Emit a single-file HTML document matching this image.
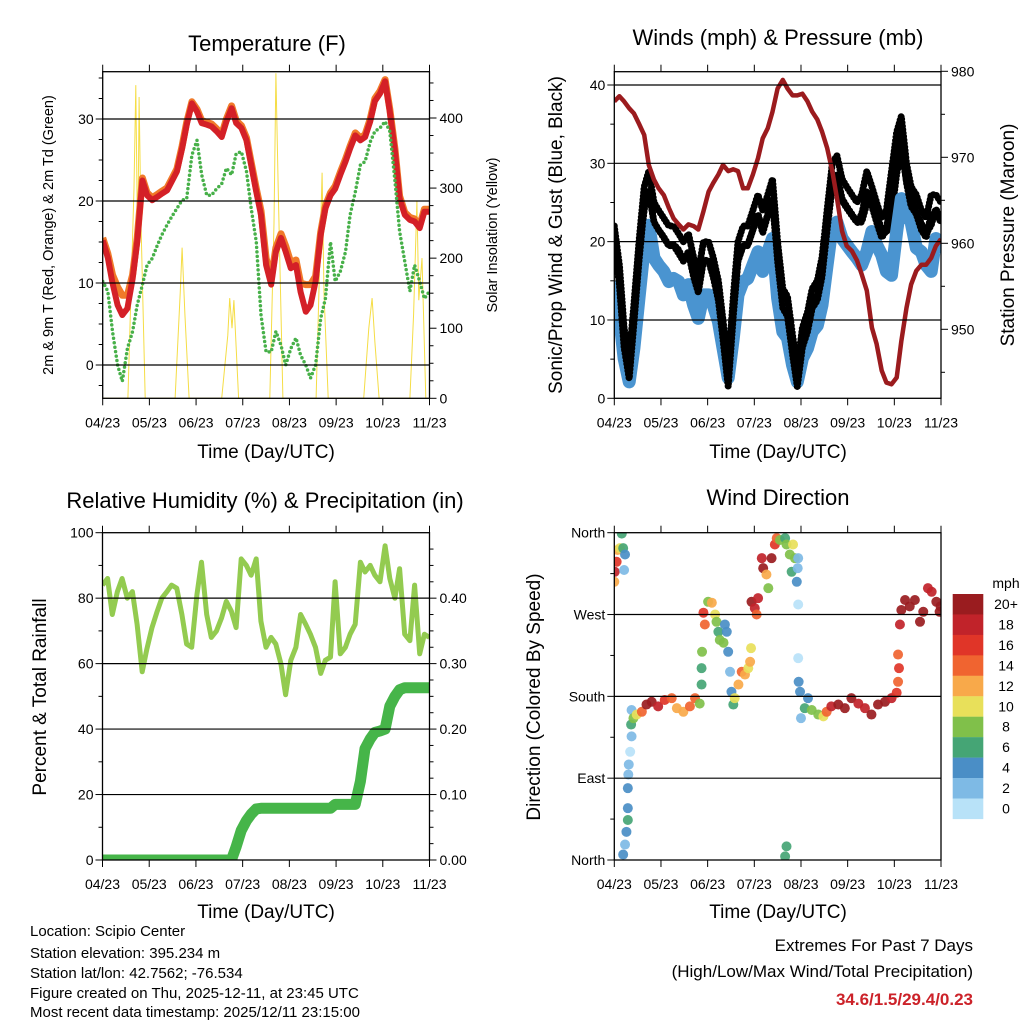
<!DOCTYPE html>
<html><head><meta charset="utf-8"><style>
html,body{margin:0;padding:0;background:#fff}
svg{display:block;font-family:"Liberation Sans",Arial,sans-serif}
</style></head><body>
<svg id="chart" width="1024" height="1024" viewBox="0 0 1024 1024" xmlns="http://www.w3.org/2000/svg">
<rect x="0" y="0" width="1024" height="1024" fill="#fff"/>
<g id="layer"></g>
<g font-size="22" text-anchor="middle" fill="#000">
<text x="267" y="51">Temperature (F)</text>
<text x="778" y="45">Winds (mph) &amp; Pressure (mb)</text>
<text x="265" y="508">Relative Humidity (%) &amp; Precipitation (in)</text>
<text x="778" y="505">Wind Direction</text>
</g>
<g font-size="19" text-anchor="middle" fill="#000">
<text x="266" y="458">Time (Day/UTC)</text>
<text x="778" y="458">Time (Day/UTC)</text>
<text x="266" y="918">Time (Day/UTC)</text>
<text x="778" y="918">Time (Day/UTC)</text>
<text transform="translate(53,235) rotate(-90)" font-size="14.5">2m &amp; 9m T (Red, Orange) &amp; 2m Td (Green)</text>
<text transform="translate(497,235) rotate(-90)" font-size="14.5">Solar Insolation (Yellow)</text>
<text transform="translate(562,235) rotate(-90)">Sonic/Prop Wind &amp; Gust (Blue, Black)</text>
<text transform="translate(1014,235) rotate(-90)">Station Pressure (Maroon)</text>
<text transform="translate(46,697) rotate(-90)">Percent &amp; Total Rainfall</text>
<text transform="translate(540,697) rotate(-90)">Direction (Colored By Speed)</text>
</g>
<g font-size="15" fill="#000">
<text x="30" y="936">Location: Scipio Center</text>
<text x="30" y="958">Station elevation: 395.234 m</text>
<text x="30" y="978">Station lat/lon: 42.7562; -76.534</text>
<text x="30" y="998">Figure created on Thu, 2025-12-11, at 23:45 UTC</text>
<text x="30" y="1017">Most recent data timestamp: 2025/12/11 23:15:00</text>
</g>
<g font-size="17" text-anchor="end" fill="#000">
<text x="973" y="951">Extremes For Past 7 Days</text>
<text x="973" y="977">(High/Low/Max Wind/Total Precipitation)</text>
<text x="973" y="1005" fill="#cc2229" font-weight="bold">34.6/1.5/29.4/0.23</text>
</g>
</svg>
<script>
const times=[0,0.11,0.21,0.32,0.42,0.53,0.64,0.74,0.85,0.95,1.06,1.17,1.27,1.38,1.48,1.59,1.70,1.80,1.91,2.02,2.12,2.23,2.33,2.44,2.55,2.65,2.76,2.86,2.97,3.08,3.18,3.29,3.39,3.50,3.61,3.71,3.82,3.92,4.03,4.14,4.24,4.35,4.45,4.56,4.67,4.77,4.88,4.98,5.09,5.20,5.30,5.41,5.52,5.62,5.73,5.83,5.94,6.05,6.15,6.26,6.36,6.47,6.58,6.68,6.79,6.89,7.00];
const xTickLabels=["04/23","05/23","06/23","07/23","08/23","09/23","10/23","11/23"];
const tempRed=[15.2,13.1,10,7.3,6.1,6.9,10.5,15,22.5,20.7,20.1,20.5,20.9,21.3,22.4,23.6,26.4,29.3,31.9,30.9,29.5,29.3,29.1,28.5,27.8,29.7,31.3,29.5,28.9,27.4,24.4,21.1,18.3,12.2,9.8,13.8,15.5,13.8,11.8,12.2,8.9,6.5,7.3,10.2,15.9,19.1,20.7,21.5,23.2,24.8,26.4,28.0,27.4,27.8,29.7,32.2,33.1,34.6,30.9,26,20.3,18.3,17.7,17.5,16.7,18.7,18.7];
const tempOrange=[15.5,13.6,11,9.5,8.5,8.5,11,15.5,22.8,21,20.4,20.8,21.2,21.6,22.7,23.9,26.7,29.6,32.1,31.2,29.8,29.6,29.4,28.8,28.1,30,31.6,29.8,29.2,27.7,24.7,21.5,18.8,13,10.5,14.3,16,14.5,12.5,12.8,10,9.8,9.8,10.8,16.2,19.4,21,21.8,23.5,25.1,26.7,28.3,27.7,28.1,30,32.5,33.4,34.8,31.2,26.3,20.6,18.6,18,17.8,17,19,19];
const dewPoint=[10.2,9.0,4.1,0,-2,2,4.1,7.3,9.8,12.2,13,14.6,15.9,17.1,18.1,19.1,20.1,20.3,25.6,27.4,23.2,20.7,20.7,21.5,22.1,24,23.2,25.8,26,23.6,19.1,15,6.1,1.6,1.6,4.1,2.4,0,2,3.3,1.2,0,-1.6,0,5.7,8.1,15,10.2,11.4,13.8,18.3,21.1,24.4,24.8,27.2,28.5,28.9,29.7,28.5,22.4,16.3,12.6,9,12.2,10.2,8.1,9];
const solarT=[0,0.54,0.67,0.71,0.75,0.78,0.82,0.91,1.55,1.66,1.70,1.76,1.85,2.55,2.68,2.72,2.77,2.81,2.91,3.58,3.67,3.71,3.76,3.86,4.57,4.65,4.70,4.74,4.83,5.59,5.70,5.77,5.83,5.92,6.58,6.66,6.73,6.77,6.84,6.92,7.0];
const solarV=[0,0,300,447,200,430,250,0,0,150,215,120,0,0,90,143,100,140,0,0,250,464,300,0,0,200,322,150,0,0,100,143,80,0,0,120,281,140,200,0,0];
const windSpeed=[15,10.6,5.1,2.1,6.4,12.8,19.2,22.1,17.9,17,16.2,14.9,15.3,14.9,13.2,14.5,11.9,10.2,13.2,13.2,11.9,9.8,6.4,2.6,7.7,13.2,14.9,15.3,17,18.7,16.2,18.7,20.4,12.8,8.5,7.7,4.2,2.1,5.1,6.4,8.5,9.3,11.9,17,22.1,22.5,20.4,19.6,18.7,17.9,17,18.7,21.3,19.6,18.3,16.2,15.7,21.3,25.5,23.4,22.5,19.2,18.7,17,16.2,20.4,18.5];
const windGust=[22,17,9,5,12,20,27,29,25,24,23,22,22,21,20,21,18,16,20,20,18,15,10,4,13,20,22,22,24,26,24,26,28,20,14,13,8,4,9,11,14,15,18,24,30,31,28,27,26,25,26,29,27,25,23,24,29,34,36,30,27,26,24,23,26,26,25];
const pressure=[976.5,977.1,976.5,975.7,975.1,973.9,972.6,969.1,967.4,966.4,965.6,964.1,962.9,962.2,961.6,962.2,962,961.6,963.7,966,967,968,969.1,968.4,968.6,968.4,966.4,966.4,968,969.9,972.2,973.4,975.3,978,979,978,977.2,977.2,977.4,976.5,975.3,974.4,973,971.1,968.4,965.3,961.4,959.7,959.1,958,956.4,954.5,950.2,948.3,945.2,943.8,943.6,944.4,948.6,952.5,955.2,956.8,957.5,957.5,958.3,959.7,960.5];
const humidity=[84,86,75,82,86,80,82,72,57.5,64.5,71,76,80,82,84,83,75,66,65,81,91,75,68,70,74,79,76,71,92,90,87,92,73,65,68,66,60,50.5,61,65,75,72,69,65,57,61,62,85,63,65,69,72,91,88,90,87,85,96,86,80,89,69,67,84,63,69,68];
const precip=[0,0,0,0,0,0,0,0,0,0,0,0,0,0,0,0,0,0,0,0,0,0,0,0,0,0,0,0.02,0.045,0.06,0.07,0.078,0.079,0.079,0.079,0.079,0.079,0.079,0.079,0.079,0.079,0.079,0.079,0.079,0.079,0.079,0.079,0.085,0.085,0.085,0.085,0.085,0.12,0.17,0.185,0.195,0.197,0.2,0.235,0.25,0.26,0.263,0.263,0.263,0.263,0.263,0.263];
const dirT=[0,0.01,0.05,0.07,0.12,0.19,0.23,0.21,0.16,0.37,0.36,0.37,0.34,0.31,0.30,0.29,0.29,0.29,0.26,0.23,0.19,0.41,0.48,0.59,0.69,0.80,0.94,1.08,1.23,1.34,1.48,1.62,1.73,1.83,1.87,1.87,1.88,1.91,1.94,2.01,2.09,2.16,2.19,2.23,2.26,2.34,2.41,2.37,2.44,2.48,2.51,2.55,2.58,2.66,2.73,2.80,2.87,2.91,2.93,2.94,3.01,3.05,3.08,3.16,3.19,3.26,3.30,3.37,3.44,3.48,3.55,3.66,3.69,3.76,3.83,3.87,3.80,3.94,3.93,3.91,3.94,3.94,3.95,3.98,3.69,3.66,4.00,4.08,4.15,4.23,4.37,4.48,4.55,4.65,4.80,4.94,5.08,5.23,5.37,5.51,5.65,5.80,5.94,6.05,6.08,6.08,6.10,6.12,6.15,6.23,6.33,6.44,6.55,6.62,6.72,6.80,6.90,6.97,6.99];
const dirDeg=[306,317,328,341,343,343,336,319,359,165,149,136,119,105,94,79,57,44,31,17,6,156,160,163,171,174,169,176,178,167,163,169,178,172,193,211,229,272,259,284,283,270,262,251,242,239,251,259,229,207,185,171,178,193,207,204,211,218,233,284,277,270,288,332,321,314,299,332,347,354,352,354,347,336,347,332,317,332,321,306,281,222,196,185,15,4,156,167,178,165,160,158,163,169,171,167,178,172,167,160,171,174,178,184,196,226,211,259,275,286,279,286,262,273,299,295,284,273,279];
const dirSpd=[12,18,16,12,10,6,4,2,6,2,6,2,0,2,2,4,4,6,4,2,4,8,10,14,20,20,18,16,14,12,12,14,14,8,6,6,8,16,14,8,12,10,8,6,8,8,4,4,4,2,4,6,10,12,14,12,10,12,10,20,18,14,18,18,20,12,8,20,16,14,8,6,8,8,10,8,6,2,2,4,0,0,4,4,6,6,2,6,4,8,8,10,14,18,20,20,20,18,18,20,20,20,18,16,14,14,16,18,20,20,20,20,20,20,18,18,20,20,20];
const speedBins=["20+","18","16","14","12","10","8","6","4","2","0"];
const speedColors=["#9a1c1f","#c1232a","#e03528","#f06430","#f8a94a","#e8e05a","#80c04a","#45a575","#4a8ec6","#7ebae5","#b8e2f8"];
const tempTicks=[0,10,20,30], solarTicks=[0,100,200,300,400], windTicks=[0,10,20,30,40], presTicks=[950,960,970,980];
const rhTicks=[0,20,40,60,80,100], rainTicks=[0,0.1,0.2,0.3,0.4], rainLabels=["0.00","0.10","0.20","0.30","0.40"];
const dirTicks=[0,90,180,270,360], dirLabels=["North","East","South","West","North"];

const NS="http://www.w3.org/2000/svg";
const layer=document.getElementById('layer');
function mk(tag,attrs,parent){const e=document.createElementNS(NS,tag);for(const k in attrs)e.setAttribute(k,attrs[k]);(parent||layer).appendChild(e);return e;}
function lin(d0,d1,r0,r1){return v=>r0+(v-d0)/(d1-d0)*(r1-r0);}
function grp(name){const g=mk('g',{});


return g;}

const P=[{l:102.7,r:429.5,t:71.7,b:398.3},{l:614.3,r:941,t:71.7,b:398.3},{l:102.5,r:429.5,t:532.7,b:860},{l:614.3,r:941,t:532.7,b:860}];
const names=['temperature','winds','humidity','wind-direction'];
const xs=P.map(p=>lin(0,7,p.l,p.r));
const yT=lin(0,10,365,283), ySol=lin(0,400,398.3,118);
const yW=lin(0,40,398.3,85), yP=lin(950,980,329.3,71.3);
const yRH=lin(0,100,860,532.7), yRain=lin(0,0.5,860,532.7);
const yDir=lin(0,360,860,532.7);

function frame(i,leftTicks,leftLbl,yl,rightTicks,rightLbl,yr,gridVals,minorL,minorR){
  const p=P[i],g=grp(names[i]+'-axes');
  gridVals.forEach(v=>{const l=mk('line',{x1:p.l,x2:p.r,y1:yl(v),y2:yl(v),stroke:'#000','stroke-width':1.2},g);
  
  });
  for(let k=0;k<8;k++){const x=xs[i](k);
    mk('line',{x1:x,x2:x,y1:p.b,y2:p.b+7,stroke:'#000','stroke-width':1},g);
    mk('line',{x1:x,x2:x,y1:p.t,y2:p.t-7,stroke:'#000','stroke-width':1},g);
    const t=mk('text',{x:x,y:p.b+29,'font-size':14,'text-anchor':'middle'},g);t.textContent=xTickLabels[k];
    
    }
  leftTicks.forEach((v,j)=>{const y=yl(v);mk('line',{x1:p.l-7,x2:p.l,y1:y,y2:y,stroke:'#000'},g);
    const t=mk('text',{x:p.l-9,y:y+5,'font-size':14,'text-anchor':'end'},g);t.textContent=leftLbl[j];
    
    });
  (minorL||[]).forEach(v=>{const y=yl(v);mk('line',{x1:p.l-4,x2:p.l,y1:y,y2:y,stroke:'#000'},g);});
  if(rightTicks){rightTicks.forEach((v,j)=>{const y=yr(v);mk('line',{x1:p.r,x2:p.r+7,y1:y,y2:y,stroke:'#000'},g);
    const t=mk('text',{x:p.r+10,y:y+5,'font-size':14,'text-anchor':'start'},g);t.textContent=rightLbl[j];
    
    });
    (minorR||[]).forEach(v=>{const y=yr(v);mk('line',{x1:p.r,x2:p.r+4,y1:y,y2:y,stroke:'#000'},g);});}
  const b=mk('rect',{x:p.l,y:p.t,width:p.r-p.l,height:p.b-p.t,fill:'none',stroke:'#000','stroke-width':1.3},g);
  
  
}
function clip(i){const id='c'+i;const c=mk('clipPath',{id:id});const p=P[i];mk('rect',{x:p.l,y:p.t,width:p.r-p.l,height:p.b-p.t},c);return 'url(#'+id+')';}
function path(xf,yf,T,V,attrs,name,parent){const d=T.map((t,k)=>(k?'L':'M')+xf(t).toFixed(1)+','+yf(V[k]).toFixed(1)).join('');
  const e=mk('path',Object.assign({d:d,fill:'none'},attrs),parent);
  
  
  return e;}

// Panel 1
{const g=grp('temperature-series');g.setAttribute('clip-path',clip(0));
 path(xs[0],ySol,solarT,solarV,{stroke:'#f5dd45','stroke-width':1},'solar-line',g);
 path(xs[0],yT,times,tempOrange,{stroke:'#f07a2a','stroke-width':7,'stroke-linejoin':'round'},'temp-9m-line',g);
 path(xs[0],yT,times,tempRed,{stroke:'#d42027','stroke-width':6,'stroke-linejoin':'round'},'temp-2m-line',g);
 path(xs[0],yT,times,dewPoint,{stroke:'#47b049','stroke-width':3.5,'stroke-dasharray':'0 4.5','stroke-linecap':'round'},'dewpoint-line',g);}
frame(0,tempTicks,tempTicks.map(String),yT,solarTicks,solarTicks.map(String),ySol,[0,10,20,30],[-2.5,2.5,5,7.5,12.5,15,17.5,22.5,25,27.5,32.5,35],[25,50,75,125,150,175,225,250,275,325,350,375,425,450]);

// Panel 2
{const g=grp('winds-series');g.setAttribute('clip-path',clip(1));
 path(xs[1],yW,times,windGust.map((v,k)=>(v+windSpeed[k])/2+1),{stroke:'#000','stroke-width':7,'stroke-dasharray':'0 3.5','stroke-linecap':'round'},'wind-gust-points-lower',g);
 path(xs[1],yW,times,windSpeed,{stroke:'#4a94d0','stroke-width':13,'stroke-linejoin':'round'},'wind-speed-line',g);
 path(xs[1],yW,times,windGust,{stroke:'#000','stroke-width':7,'stroke-dasharray':'0 3.5','stroke-linecap':'round'},'wind-gust-points',g);
 path(xs[1],yW,times,windGust.map((v,k)=>v-2.5),{stroke:'#000','stroke-width':7,'stroke-dasharray':'0 3.5','stroke-linecap':'round'},'wind-gust-points-mid',g);
 path(xs[1],yP,times,pressure,{stroke:'#9b1b1e','stroke-width':4.5,'stroke-linejoin':'round'},'pressure-line',g);}
frame(1,windTicks,windTicks.map(String),yW,presTicks,presTicks.map(String),yP,[10,20,30,40],[5,15,25,35],[945,955,965,975]);

// Panel 3
{const g=grp('humidity-series');g.setAttribute('clip-path',clip(2));
 path(xs[2],yRH,times,humidity,{stroke:'#93cb50','stroke-width':5,'stroke-linejoin':'round'},'humidity-line',g);
 path(xs[2],yRain,times,precip,{stroke:'#46b549','stroke-width':11,'stroke-linejoin':'round','stroke-linecap':'round'},'precip-line',g);}
frame(2,rhTicks,rhTicks.map(String),yRH,rainTicks,rainLabels,yRain,[20,40,60,80],[10,30,50,70,90],[0.025,0.05,0.075,0.125,0.15,0.175,0.225,0.25,0.275,0.325,0.35,0.375,0.425,0.45,0.475]);

// Panel 4
{const g=grp('wind-direction-series');g.setAttribute('clip-path',clip(3));
 dirT.forEach((t,k)=>{const bin=Math.min(10,Math.max(0,10-Math.floor(dirSpd[k]/2)));
  const c=mk('circle',{cx:xs[3](t),cy:yDir(dirDeg[k]),r:5,fill:speedColors[bin],'fill-opacity':0.92},g);
  
  });}
frame(3,dirTicks,dirLabels,yDir,null,null,null,[90,180,270],[45,135,225,315],null);

// Colorbar
{const g=grp('speed-colorbar');
 const t0=mk('text',{x:1006,y:588,'font-size':14,'text-anchor':'middle'},g);t0.textContent='mph';
 
 
 speedBins.forEach((lbl,i)=>{const y=594+i*20.45;
  const r=mk('rect',{x:952.7,y:y,width:30.6,height:20.6,fill:speedColors[i]},g);
  
  
  const t=mk('text',{x:1006,y:y+15,'font-size':14,'text-anchor':'middle'},g);t.textContent=lbl;
  
  });}
</script>
</body></html>
